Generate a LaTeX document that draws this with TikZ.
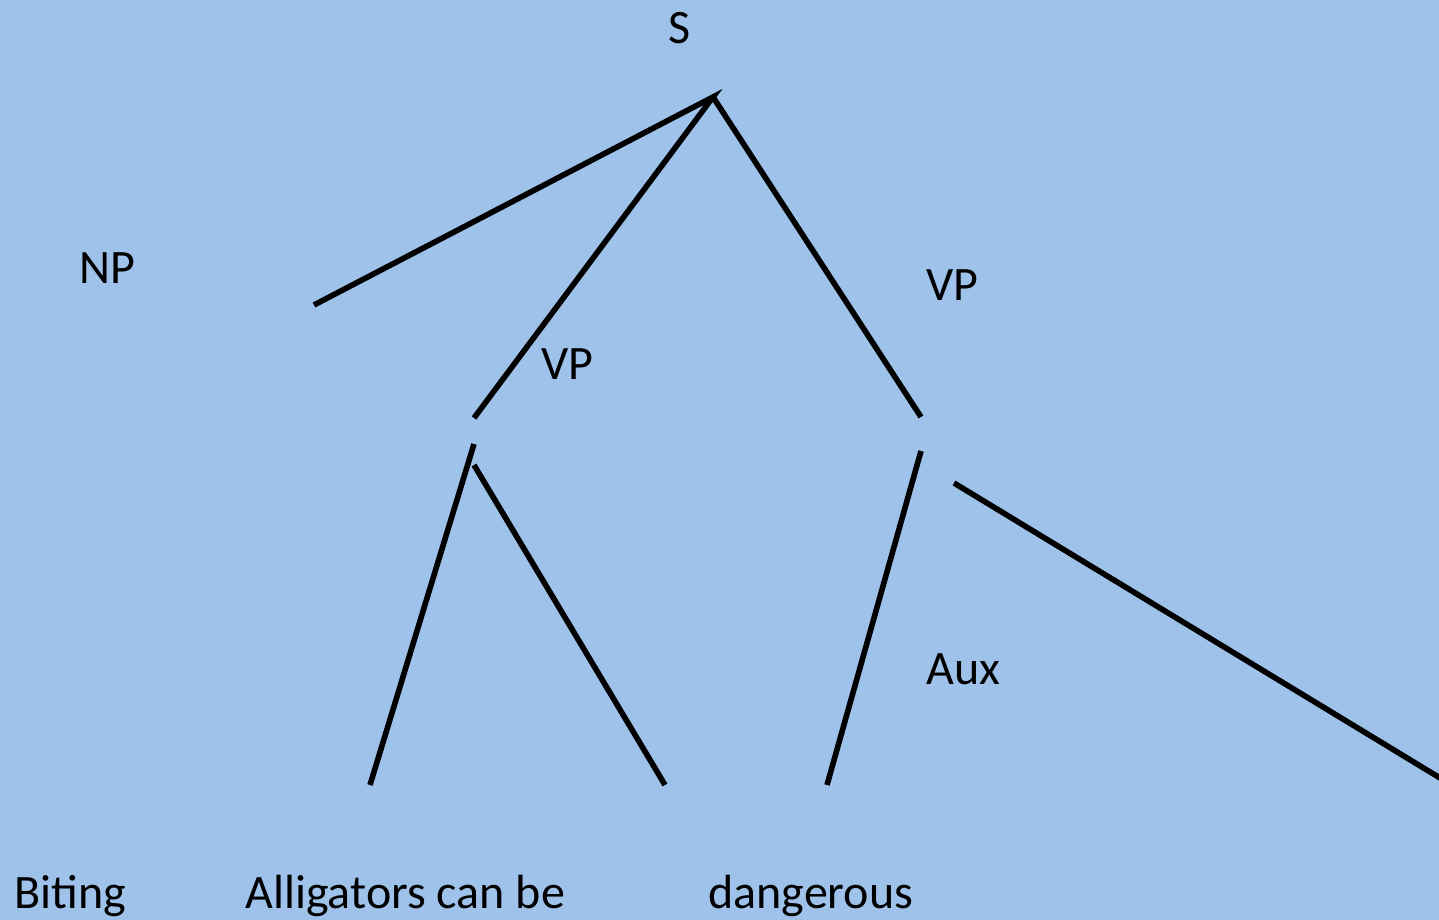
\documentclass[tikz,border=0pt]{standalone}
\usepackage{fontspec}
\setmainfont{Carlito}
\definecolor{bgblue}{RGB}{158,194,233}
\begin{document}
\begin{tikzpicture}[x=0.5pt,y=-0.5pt,
  branch/.style={line width=2.8pt,black},
  lbl/.style={inner sep=0pt,anchor=base west,font=\fontsize{24}{28}\selectfont}]
\fill[bgblue] (0,0) rectangle (1439,920);
\useasboundingbox (0,0) rectangle (1439,920);
% labels
\node[lbl,anchor=base] (s) at (680,44) {S};
\node[lbl] (np) at (79,283) {NP};
\node[lbl] (vp1) at (541,379) {VP};
\node[lbl] (vp2) at (926,300) {VP};
\node[lbl] (aux) at (926,684) {Aux};
\node[lbl] (w1) at (14,908) {Biting};
\node[lbl] (w2) at (245,908) {Alligators can be};
\node[lbl] (w3) at (708,908) {dangerous};
% coordinates of branch ends
\coordinate (top) at (713,97);
\coordinate (a1) at (314,305);
\coordinate (a2) at (474,418);
\coordinate (a3) at (921,417);
\coordinate (b1) at (474,444);
\coordinate (b2) at (370,785);
\coordinate (c1) at (474,465);
\coordinate (c2) at (665,785);
\coordinate (d1) at (921,451);
\coordinate (d2) at (827,785);
\coordinate (e1) at (954,483);
\coordinate (e2) at (1445,781);
\draw[branch] (a1) -- (top) -- (a2);
\draw[branch] (top) -- (a3);
\draw[branch] (b1) -- (b2);
\draw[branch] (c1) -- (c2);
\draw[branch] (d1) -- (d2);
\draw[branch] (e1) -- (e2);
\end{tikzpicture}
\end{document}
